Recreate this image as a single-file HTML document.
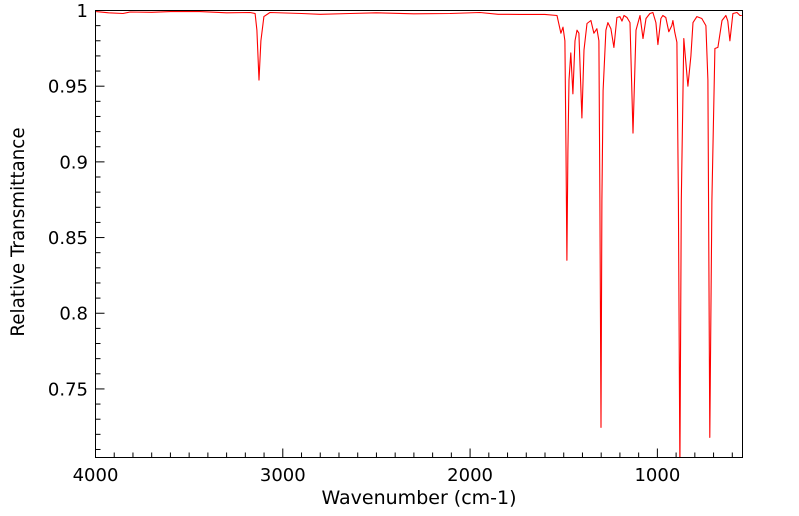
<!DOCTYPE html>
<html><head><meta charset="utf-8"><style>
html,body{margin:0;padding:0;background:#fff;}
svg{display:block;font-family:"DejaVu Sans","Liberation Sans",sans-serif;}
</style></head><body>
<svg id="chart" width="799" height="516" viewBox="0 0 799 516" xmlns="http://www.w3.org/2000/svg">
<defs><clipPath id="clip"><rect x="95.5" y="10" width="647" height="447"/></clipPath></defs>
<g id="axes"></g>
<g id="series" clip-path="url(#clip)"></g>
<rect x="95.5" y="10.5" width="647" height="447" fill="none" stroke="#000" stroke-width="1"/>
<text x="419" y="504" font-size="19" text-anchor="middle">Wavenumber (cm-1)</text>
<text x="24" y="232" font-size="18.3" text-anchor="middle" transform="rotate(-90 24 232)">Relative Transmittance</text>
</svg>
<script>
const wavenumbers = [3997,3930,3853,3816,3700,3600,3442,3300,3175,3148,3138,3127,3117,3101,3069,2900,2800,2641,2500,2300,2107,1947,1850,1734,1601,1536,1515,1504,1494,1488,1483,1478,1472,1462,1451,1440,1429,1419,1403,1392,1376,1355,1339,1323,1312,1307,1301,1296,1290,1275,1264,1248,1232,1216,1200,1189,1178,1162,1146,1130,1114,1093,1077,1061,1040,1024,1008,997,981,971,955,939,923,917,907,896,888,880,872,859,837,821,810,789,763,741,730,720,709,693,677,655,634,624,613,597,575,559,549];
const transmittance = [0.9993,0.9985,0.998,0.999,0.9988,0.9993,0.9993,0.9985,0.9987,0.998,0.987,0.954,0.980,0.996,0.9987,0.998,0.9975,0.998,0.9985,0.9978,0.998,0.9987,0.9975,0.9974,0.9974,0.9967,0.985,0.989,0.980,0.907,0.835,0.907,0.954,0.972,0.945,0.980,0.987,0.985,0.929,0.974,0.9914,0.9934,0.985,0.988,0.980,0.8745,0.7246,0.8745,0.947,0.987,0.992,0.988,0.9756,0.9954,0.996,0.993,0.9967,0.9954,0.992,0.919,0.987,0.9967,0.9815,0.9947,0.998,0.9987,0.992,0.9775,0.9947,0.9967,0.9954,0.986,0.990,0.9934,0.9855,0.979,0.8745,0.696,0.8745,0.9815,0.950,0.970,0.992,0.996,0.9947,0.990,0.954,0.718,0.8745,0.9749,0.9756,0.9934,0.9967,0.993,0.980,0.998,0.9987,0.9967,0.9967];
const xTicks = [4000,3000,2000,1000];
const yTicks = [0.75,0.8,0.85,0.9,0.95,1];
const yTickLabels = ["0.75","0.8","0.85","0.9","0.95","1"];

const X0=95.5,X1=742.5,Y0=10.5,Y1=457.5;
const WMAX=4000,WMIN=545.5,TMIN=0.7047,TMAX=1;
const xs=w=>X0+(WMAX-w)/(WMAX-WMIN)*(X1-X0);
const ys=t=>Y0+(TMAX-t)/(TMAX-TMIN)*(Y1-Y0);
const NS="http://www.w3.org/2000/svg";
const axes=document.getElementById('axes');
function mk(tag,attrs,parent){const e=document.createElementNS(NS,tag);for(const k in attrs)e.setAttribute(k,attrs[k]);parent.appendChild(e);return e;}

for(let w=4000;w>=600;w-=100){
  const major=w%1000===0;
  const l=mk('line',{x1:xs(w),x2:xs(w),y1:Y1,y2:Y1-(major?9:5),stroke:'#000','stroke-width':1},axes);
  
  
}
xTicks.forEach(w=>{
  const t=mk('text',{x:xs(w),y:481,'font-size':18,'text-anchor':'middle'},axes);
  t.textContent=String(w);
  
  
});
for(let i=71;i<=100;i++){
  const v=i/100;const major=i%5===0;
  const l=mk('line',{x1:X0,x2:X0+(major?9:5),y1:ys(v),y2:ys(v),stroke:'#000','stroke-width':1},axes);
  
  
}
yTicks.forEach((v,i)=>{
  const t=mk('text',{x:88,y:ys(v)+6.5,'font-size':18,'text-anchor':'end'},axes);
  t.textContent=yTickLabels[i];
  
  
});
const pts=wavenumbers.map((w,i)=>xs(w).toFixed(1)+','+ys(transmittance[i]).toFixed(1)).join(' ');
const line=mk('polyline',{points:pts,fill:'none',stroke:'#ff0000','stroke-width':1.1,'stroke-linejoin':'round'},document.getElementById('series'));


</script>
</body></html>
